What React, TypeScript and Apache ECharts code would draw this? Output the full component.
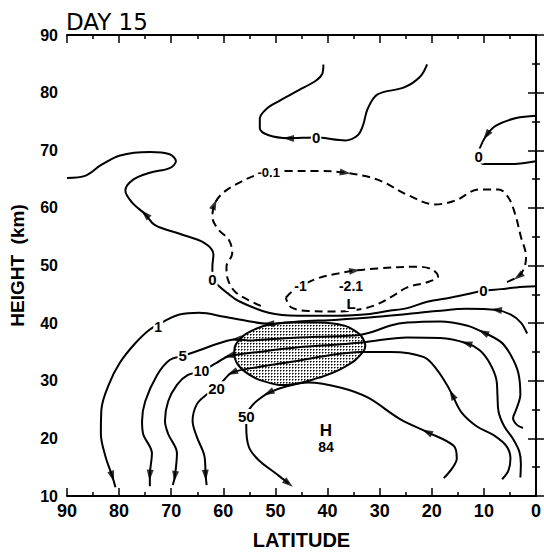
import React, { useEffect, useRef } from "react";
import * as echarts from "echarts";

// Contours in (latitude, height km), listed in the direction of flow
const C_ONE: number[][] = [[1.7,38.2],[2.9,40.1],[4.9,41.5],[7.6,42.3],[13.3,42.5],[19.0,42.1],[24.7,41.6],[30.4,41.1],[38.0,40.6],[45.6,40.3],[51.3,39.9],[55.6,40.4],[59.8,41.1],[64.6,41.8],[68.4,41.5],[71.2,40.4],[74.1,38.9],[76.9,36.5],[79.8,33.2],[82.0,29.3],[83.4,25.0],[83.5,20.8],[82.6,16.8],[81.3,13.4],[80.7,11.5]];
const C_FIVE: number[][] = [[2.5,21.8],[3.6,22.3],[4.4,23.5],[3.8,25.0],[3.0,27.6],[3.4,31.4],[4.8,34.4],[6.7,36.7],[10.1,38.4],[13.3,39.6],[18.4,40.3],[24.7,40.1],[27.9,39.6],[31.3,38.5],[34.2,37.9],[39.9,37.7],[45.6,37.5],[51.3,37.2],[55.1,37.0],[57.5,37.2],[60.8,36.5],[64.6,35.3],[67.8,34.3],[70.3,33.6],[72.7,31.0],[75.0,26.4],[75.6,23.0],[75.4,20.8],[73.7,17.4],[74.1,13.6],[74.1,11.7]];
const C_TEN: number[][] = [[3.0,13.2],[2.9,15.6],[3.2,17.7],[4.4,19.9],[6.1,22.1],[7.2,24.7],[7.4,27.6],[7.6,30.2],[8.9,33.1],[10.8,35.3],[13.3,36.5],[18.4,37.4],[24.7,37.5],[32.9,36.7],[38.0,36.3],[45.6,35.8],[53.2,35.0],[58.9,34.3],[61.3,33.1],[64.2,31.7],[66.8,31.0],[68.9,29.3],[70.6,26.4],[71.2,23.0],[70.6,20.8],[68.9,17.4],[69.3,13.4],[69.7,11.9]];
const C_TWENTY: number[][] = [[6.5,12.9],[5.3,14.4],[4.9,16.5],[5.7,18.7],[8.2,20.6],[11.4,22.1],[14.3,24.5],[16.1,27.6],[17.1,29.3],[19.0,31.9],[21.5,34.1],[27.9,35.0],[33.6,35.0],[39.9,34.4],[47.5,33.2],[53.2,32.4],[58.3,31.4],[60.2,29.8],[61.3,28.6],[63.2,27.6],[65.1,25.9],[65.9,23.0],[65.1,20.3],[63.6,16.8],[63.4,13.6],[63.2,11.9]];
const C_FIFTY: number[][] = [[17.7,13.1],[16.1,14.8],[15.2,16.5],[15.8,18.7],[20.9,21.1],[26.0,23.3],[32.3,27.1],[37.4,28.8],[43.7,29.7],[48.0,29.0],[51.3,27.9],[53.7,26.4],[54.9,25.2],[55.6,23.8],[55.6,22.0],[55.1,18.5],[53.2,16.2],[49.9,13.9],[47.5,12.2]];
const C_ZERO_LEFT: number[][] = [[0,46.4],[3.8,46.2],[6.7,45.9],[10.1,45.6],[13.3,45.0],[16.5,44.4],[20.9,43.7],[24.7,42.6],[28.5,42.1],[31.9,41.6],[38.0,41.3],[45.6,41.3],[51.3,41.8],[57.0,43.8],[59.2,45.2],[60.8,46.4],[62.1,47.8],[62.1,49.8],[61.9,51.9],[63.6,53.9],[68.4,55.5],[73.1,57.0],[75.0,58.9],[77.5,60.9],[78.8,63.0],[77.3,64.9],[74.1,66.1],[70.3,66.9],[69.1,68.1],[70.3,69.3],[74.1,69.7],[79.8,69.1],[83.5,67.4],[86.4,65.6],[90,65.2]];
const C_ZERO_TOP: number[][] = [[20.9,84.9],[22.2,82.8],[25.3,80.9],[30.4,79.7],[32.3,77.2],[33.2,74.3],[34.2,72.6],[36.6,71.7],[42.2,72.2],[47.5,72.1],[51.3,72.6],[53.0,73.8],[53.0,75.5],[51.7,77.2],[49.4,78.5],[45.6,80.4],[42.2,82.1],[41.0,83.3],[40.8,84.9]];
const C_ZERO_RIGHT: number[][] = [[0,76.0],[3.8,75.6],[7.6,74.3],[9.5,72.6],[10.8,70.3],[11.0,69.0],[10.1,67.6],[5.1,67.6],[0,68.1]];
const C_M01: number[][] = [[52.8,43.0],[55.6,44.2],[57.9,45.6],[59.2,47.8],[59.4,49.8],[58.3,52.1],[58.9,54.4],[61.0,56.3],[62.1,58.4],[61.7,60.6],[60.2,62.5],[57.3,64.2],[53.7,65.7],[51.3,66.1],[47.5,66.4],[41.8,66.4],[36.6,66.1],[30.4,64.9],[24.3,62.1],[19.4,60.6],[15.4,61.3],[11.0,63.2],[7.2,63.2],[5.3,61.8],[4.0,58.9],[2.9,55.0],[1.9,51.5],[2.3,49.5],[3.4,48.1],[6.3,46.9]];
const C_M1: number[][] = [[48.0,44.4],[46.9,45.4],[45.2,46.4],[41.8,47.8],[38.0,48.6],[34.8,49.1],[30.4,49.5],[22.8,49.8],[19.9,49.3],[18.8,48.1],[20.9,47.1],[24.7,46.2],[27.5,44.7],[30.4,43.3],[33.2,42.5],[38.0,42.0],[43.7,42.1],[47.1,42.8],[48.0,44.4]];
const SHADED: number[][] = [[57.9,35.0],[57.3,36.7],[54.5,38.7],[49.9,39.9],[44.2,40.1],[38.6,39.9],[34.8,38.7],[32.9,36.7],[33.2,35.0],[36.7,32.4],[41.8,30.5],[47.5,29.3],[51.8,29.8],[55.6,31.4],[57.5,33.2]];

// Contour labels
const LABEL_TEXT = ["0", "0", "0", "0", "-0.1", "-1", "-2.1", "L", "1", "5", "10", "20", "50", "H", "84"];
const LABEL_LAT = [42.2, 11.0, 62.1, 10.1, 51.3, 45.2, 35.5, 35.5, 72.5, 67.8, 64.2, 61.3, 55.6, 40.3, 40.3];
const LABEL_HGT = [72.2, 69.0, 47.6, 45.6, 66.1, 46.4, 46.5, 43.4, 39.4, 34.3, 31.7, 28.6, 23.8, 21.3, 18.5];
const LABEL_SIZE = [15, 15, 15, 15, 13, 14, 14, 15, 14, 15, 14, 15, 15, 17, 14];

const CONTOURS = [
  { data: C_ONE, dashed: false, arrows: [3, 10, 23] },
  { data: C_FIVE, dashed: false, arrows: [8, 19, 29] },
  { data: C_TEN, dashed: false, arrows: [10, 17, 26] },
  { data: C_TWENTY, dashed: false, arrows: [7, 16, 24] },
  { data: C_FIFTY, dashed: false, arrows: [4, 10, 18] },
  { data: C_ZERO_LEFT, dashed: false, arrows: [22] },
  { data: C_ZERO_TOP, dashed: false, arrows: [9] },
  { data: C_ZERO_RIGHT, dashed: false, arrows: [3] },
  { data: C_M01, dashed: true, arrows: [9, 16, 28] },
  { data: C_M1, dashed: true, arrows: [5] },
];

const NARROW = '"Liberation Sans Narrow", "Liberation Sans", Arial, sans-serif';
const SANS = '"Liberation Sans", Arial, sans-serif';

function makeDots(): string {
  const c = document.createElement("canvas");
  c.width = 3;
  c.height = 3;
  const g = c.getContext("2d");
  if (g) {
    g.fillStyle = "#fff";
    g.fillRect(0, 0, 3, 3);
    g.fillStyle = "#000";
    g.fillRect(1, 1, 1, 1);
    g.fillStyle = "#777";
    g.fillRect(2, 1, 1, 1);
    g.fillRect(1, 2, 1, 1);
  }
  return c.toDataURL();
}

export default function App() {
  const ref = useRef<HTMLDivElement>(null);
  useEffect(() => {
    if (!ref.current) return;
    const chart = echarts.init(ref.current, undefined, { renderer: "svg" });
    const pattern: any = { image: makeDots(), repeat: "repeat", imageWidth: 3, imageHeight: 3 };

    const tickStyle = { color: "#000", width: 1.5 };
    const baseX = {
      type: "value", min: 0, max: 90, interval: 10, inverse: true,
      axisLine: { show: true, lineStyle: { color: "#000", width: 2 } },
      axisTick: { show: true, inside: true, length: 8, lineStyle: tickStyle },
      minorTick: { show: true, splitNumber: 2, length: 4, lineStyle: tickStyle },
      splitLine: { show: false },
      minorSplitLine: { show: false },
    };
    const baseY = {
      type: "value", min: 10, max: 90, interval: 10,
      axisLine: { show: true, lineStyle: { color: "#000", width: 2 } },
      axisTick: { show: true, inside: true, length: 8, lineStyle: tickStyle },
      minorTick: { show: true, splitNumber: 2, length: 4, lineStyle: tickStyle },
      splitLine: { show: false },
      minorSplitLine: { show: false },
    };

    const lineSeries = CONTOURS.map((c) => ({
      type: "line",
      data: c.data,
      smooth: 0.35,
      showSymbol: false,
      symbol: "none",
      silent: true,
      z: 3,
      lineStyle: { color: "#000", width: 2, type: c.dashed ? [8, 5] : "solid" },
    }));

    const option: any = {
      animation: false,
      title: {
        text: "DAY 15", left: 61, top: 5,
        textStyle: { fontSize: 23, fontWeight: "normal", color: "#000", fontFamily: '"DejaVu Sans", "Liberation Sans", sans-serif' },
      },
      grid: { left: 66, right: 4, top: 35, bottom: 52 },
      xAxis: [
        {
          ...baseX, position: "bottom",
          axisLabel: { color: "#000", fontSize: 18, fontWeight: "bold", margin: 6, fontFamily: NARROW },
          name: "LATITUDE", nameLocation: "middle", nameGap: 34,
          nameTextStyle: { color: "#000", fontSize: 20, fontWeight: "bold", fontFamily: NARROW },
        },
        { ...baseX, position: "top", axisLabel: { show: false } },
      ],
      yAxis: [
        {
          ...baseY, position: "left",
          axisLabel: { color: "#000", fontSize: 16, fontWeight: "bold", margin: 9, fontFamily: SANS },
          name: "HEIGHT  (km)", nameLocation: "middle", nameGap: 40,
          nameTextStyle: { color: "#000", fontSize: 19, fontWeight: "bold", fontFamily: NARROW },
        },
        { ...baseY, position: "right", axisLabel: { show: false } },
      ],
      series: [
        {
          type: "custom",
          coordinateSystem: "cartesian2d",
          silent: true,
          z: 1,
          data: [[45, 35]],
          renderItem: (_p: any, api: any) => ({
            type: "polygon",
            shape: { points: SHADED.map((pt) => api.coord(pt)), smooth: 0.45 },
            style: { fill: pattern, stroke: "#000", lineWidth: 2 },
          }),
        },
        ...lineSeries,
        {
          id: "arrows",
          type: "scatter",
          silent: true,
          z: 4,
          symbol: "triangle",
          symbolSize: [7, 11],
          itemStyle: { color: "#000" },
          data: [],
        },
      ],
    };
    chart.setOption(option);

    const px = (p: number[]) => chart.convertToPixel({ gridIndex: 0 }, p) as number[];

    const arrowData: any[] = [];
    CONTOURS.forEach((c) => {
      c.arrows.forEach((i) => {
        const pa = px(c.data[Math.max(0, i - 1)]);
        const pb = px(c.data[Math.min(c.data.length - 1, i + 1)]);
        const theta = (Math.atan2(-(pb[1] - pa[1]), pb[0] - pa[0]) * 180) / Math.PI;
        arrowData.push({ value: c.data[i], symbolRotate: theta - 90 });
      });
    });

    const labelGraphics = LABEL_TEXT.map((t, i) => {
      const p = px([LABEL_LAT[i], LABEL_HGT[i]]);
      return {
        type: "text",
        x: p[0],
        y: p[1],
        z: 100,
        silent: true,
        style: {
          text: t,
          fill: "#000",
          fontSize: LABEL_SIZE[i],
          fontWeight: "bold",
          fontFamily: SANS,
          align: "center",
          verticalAlign: "middle",
          backgroundColor: "#fff",
          padding: [0, 1],
        },
      };
    });

    chart.setOption({
      series: [{ id: "arrows", data: arrowData }],
      graphic: { elements: labelGraphics },
    });

    return () => chart.dispose();
  }, []);
  return <div ref={ref} style={{ position: "fixed", left: 0, top: 0, width: 544, height: 555, background: "#fff" }} />;
}
